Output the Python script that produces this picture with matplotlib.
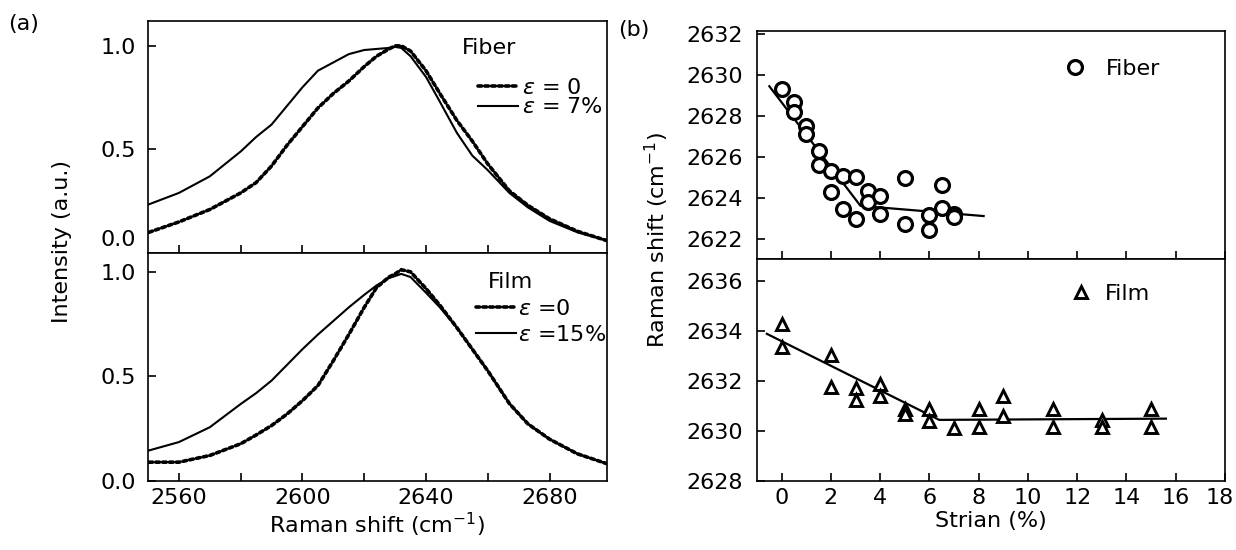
import numpy as np
import matplotlib
matplotlib.use('Agg')
import matplotlib.pyplot as plt
from matplotlib.transforms import ScaledTranslation

plt.rcParams['font.family'] = 'DejaVu Sans'
plt.rcParams['font.size'] = 16
plt.rcParams['axes.linewidth'] = 1.2

# ---- panel (a): Raman spectra ----
raman_x = [2550.3, 2560, 2570, 2580, 2585, 2590, 2595, 2600, 2605, 2610, 2615, 2620, 2624,
           2628, 2630, 2632, 2635, 2640, 2644.5, 2650, 2655, 2660, 2667, 2673, 2680, 2689, 2698.5]
fiber_e0 = [0.10, 0.15, 0.21, 0.29, 0.34, 0.42, 0.52, 0.61, 0.70, 0.77, 0.83, 0.90, 0.95,
            0.985, 1.0, 1.0, 0.975, 0.88, 0.77, 0.64, 0.54, 0.43, 0.30, 0.23, 0.165, 0.105, 0.06]
fiber_e7 = [0.235, 0.29, 0.37, 0.49, 0.56, 0.62, 0.71, 0.80, 0.88, 0.92, 0.96, 0.98, 0.985,
            0.99, 0.995, 0.99, 0.95, 0.85, 0.73, 0.58, 0.47, 0.40, 0.29, 0.22, 0.155, 0.10, 0.06]
film_e0 = [0.09, 0.09, 0.122, 0.178, 0.22, 0.265, 0.32, 0.384, 0.456, 0.575, 0.70, 0.83, 0.925,
           0.975, 0.99, 1.01, 1.0, 0.92, 0.84, 0.733, 0.63, 0.527, 0.37, 0.273, 0.20, 0.13, 0.083]
film_e15 = [0.146, 0.186, 0.257, 0.368, 0.42, 0.48, 0.555, 0.63, 0.70, 0.765, 0.83, 0.89, 0.935,
            0.97, 0.98, 0.99, 0.975, 0.90, 0.83, 0.733, 0.63, 0.527, 0.37, 0.273, 0.20, 0.13, 0.083]

# ---- panel (b): peak position vs strain ----
fiber_strain = [0, 0.5, 0.5, 1, 1, 1.5, 1.5, 2, 2, 2.5, 2.5, 3, 3, 3.5, 3.5, 4, 4,
                5, 5, 6, 6, 6.5, 6.5, 7, 7]
fiber_shift = [2629.3, 2628.67, 2628.2, 2627.48, 2627.1, 2626.3, 2625.6, 2625.3, 2624.3,
               2625.05, 2623.45, 2625.0, 2622.97, 2624.33, 2623.77, 2624.1, 2623.2,
               2624.96, 2622.7, 2623.15, 2622.4, 2624.6, 2623.5, 2623.2, 2623.05]
fiber_fit_x = [-0.5, 3.2, 8.2]
fiber_fit_y = [2629.45, 2623.6, 2623.1]

film_strain = [0, 0, 2, 2, 3, 3, 4, 4, 5, 5, 6, 6, 7, 8, 8, 9, 9, 11, 11, 13, 13, 15, 15]
film_shift = [2634.29, 2633.38, 2633.06, 2631.77, 2631.74, 2631.25, 2631.9, 2631.4,
              2630.9, 2630.67, 2630.9, 2630.4, 2630.13, 2630.9, 2630.15, 2631.4, 2630.6,
              2630.9, 2630.15, 2630.45, 2630.15, 2630.9, 2630.15]
film_fit_x = [-0.6, 6.4, 15.6]
film_fit_y = [2633.9, 2630.45, 2630.5]

W, H = 1236, 550
fig = plt.figure(figsize=(W / 100, H / 100), dpi=100)


def box(x0, y0, x1, y1):
    # pixel box -> figure fraction
    return [x0 / W, 1 - y1 / H, (x1 - x0) / W, (y1 - y0) / H]


ax_a1 = fig.add_axes(box(148, 21, 607, 253))
ax_a2 = fig.add_axes(box(148, 253, 607, 481))
ax_b1 = fig.add_axes(box(757, 31, 1225, 259))
ax_b2 = fig.add_axes(box(757, 259, 1225, 481))

dot_style = dict(color='black', lw=2.6, linestyle=(0, (1, 0.9)), dash_capstyle='round')
solid_style = dict(color='black', lw=1.5)

# (a) top: fiber
l0, = ax_a1.plot(raman_x, fiber_e0, label=r'$\varepsilon$ = 0', **dot_style)
l1, = ax_a1.plot(raman_x, fiber_e7, label=r'$\varepsilon$ = 7%', **solid_style)
ax_a1.legend(handles=[l0, l1], loc='upper left', bbox_to_anchor=(0.719, 0.755),
             frameon=False, borderpad=0, borderaxespad=0, handlelength=1.8,
             handletextpad=0.2, labelspacing=-0.02, fontsize=16)
ax_a1.text(0.684, 0.884, 'Fiber', transform=ax_a1.transAxes, va='center', ha='left')
ax_a1.set_ylim(0, 1.12)

# (a) bottom: film
l2, = ax_a2.plot(raman_x, film_e0, label=r'$\varepsilon$ =0', **dot_style)
l3, = ax_a2.plot(raman_x, film_e15, label=r'$\varepsilon$ =15%', **solid_style)
ax_a2.legend(handles=[l2, l3], loc='upper left', bbox_to_anchor=(0.715, 0.80),
             frameon=False, borderpad=0, borderaxespad=0, handlelength=1.8,
             handletextpad=0.1, labelspacing=0.3, fontsize=16)
ax_a2.text(0.741, 0.872, 'Film', transform=ax_a2.transAxes, va='center', ha='left')
ax_a2.set_ylim(0, 1.09)

for ax in (ax_a1, ax_a2):
    ax.set_xlim(2550, 2698.6)
    ax.set_xticks(np.arange(2560, 2681, 20))
    ax.set_xticklabels(['2560', '', '2600', '', '2640', '', '2680'])
    ax.set_yticks([0.0, 0.5, 1.0])
    ax.set_yticklabels(['0.0', '0.5', '1.0'])
    ax.tick_params(direction='in', length=6, width=1.2, pad=8.5)
    ax.tick_params(axis='x', pad=5)
ax_a1.tick_params(labelbottom=False)
ax_a2.set_xlabel('Raman shift (cm$^{-1}$)', labelpad=2)

# lift the top "0.0" label clear of the panel divider
lab = ax_a1.get_yticklabels()[0]
lab.set_transform(lab.get_transform() + ScaledTranslation(0, 0.15, fig.dpi_scale_trans))

# (b) top: fiber
ax_b1.plot(fiber_fit_x, fiber_fit_y, color='black', lw=1.6)
ax_b1.plot(fiber_strain, fiber_shift, linestyle='none', marker='o', ms=10,
           mfc='white', mec='black', mew=2.3, label='Fiber')
ax_b1.legend(loc='upper left', bbox_to_anchor=(0.66, 0.877), frameon=False,
             borderpad=0, borderaxespad=0, handlelength=0.8, handletextpad=1.0,
             fontsize=16)
ax_b1.set_ylim(2621.0, 2632.15)
ax_b1.set_yticks(np.arange(2622, 2633, 2))
ax_b1.tick_params(labelbottom=False)

# (b) bottom: film
ax_b2.plot(film_fit_x, film_fit_y, color='black', lw=1.6)
ax_b2.plot(film_strain, film_shift, linestyle='none', marker='^', ms=9,
           mfc='white', mec='black', mew=2.1, label='Film')
ax_b2.legend(loc='upper left', bbox_to_anchor=(0.674, 0.887), frameon=False,
             borderpad=0, borderaxespad=0, handlelength=0.8, handletextpad=0.68,
             fontsize=16)
ax_b2.set_ylim(2628, 2636.9)
ax_b2.set_yticks(np.arange(2628, 2637, 2))
ax_b2.set_xlabel('Strian (%)', labelpad=2)

for ax in (ax_b1, ax_b2):
    ax.set_xlim(-1, 18)
    ax.set_xticks(np.arange(0, 19, 2))
    ax.tick_params(direction='in', length=6, width=1.2, pad=10)
    ax.tick_params(axis='x', pad=5)

# keep the "18" label inside the figure edge
lab18 = ax_b2.get_xticklabels()[-1]
lab18.set_transform(lab18.get_transform() + ScaledTranslation(-0.05, 0, fig.dpi_scale_trans))

fig.text(62 / W, 1 - 242 / H, 'Intensity (a.u.)', rotation=90, ha='center', va='center')
fig.text(657 / W, 1 - 240 / H, 'Raman shift (cm$^{-1}$)', rotation=90, ha='center', va='center')
fig.text(8 / W, 1 - 24 / H, '(a)', ha='left', va='center')
fig.text(618 / W, 1 - 30 / H, '(b)', ha='left', va='center')

fig.savefig('out.png', dpi=100, facecolor='white')
